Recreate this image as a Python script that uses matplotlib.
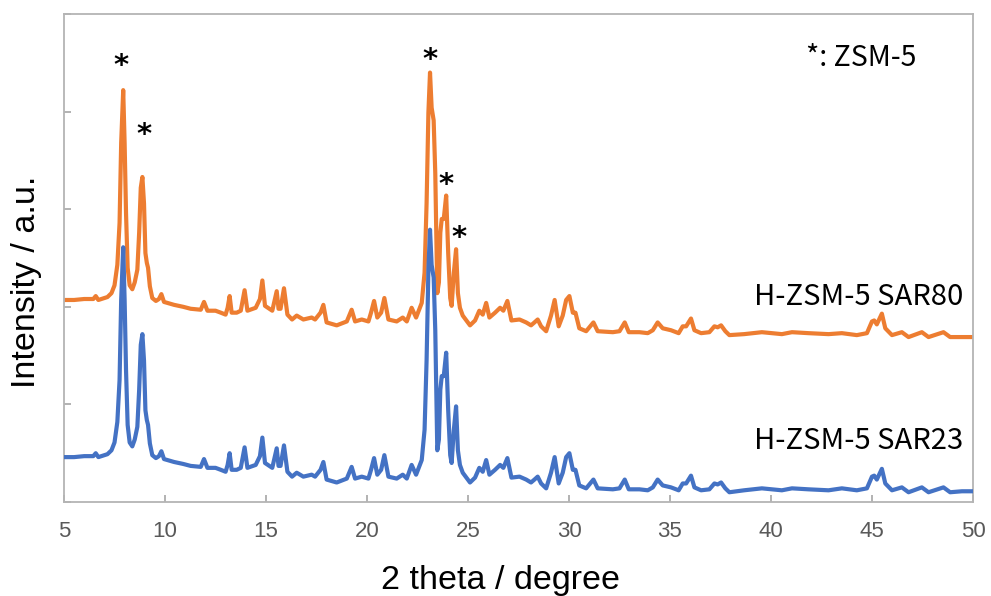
import matplotlib
matplotlib.use("Agg")
import matplotlib.pyplot as plt

# XRD patterns of the two H-ZSM-5 samples (intensity already stacked for display)
two_theta = [
    5.00, 5.50, 6.00, 6.45, 6.57, 6.70, 7.15, 7.35, 7.50, 7.64,
    7.75, 7.83, 7.93, 8.00, 8.07, 8.15, 8.25, 8.38, 8.50, 8.63,
    8.72, 8.80, 8.88, 8.96, 9.03, 9.10, 9.16, 9.25, 9.37, 9.55,
    9.70, 9.82, 9.95, 10.45, 10.90, 11.27, 11.77, 11.93, 12.10, 12.50,
    12.76, 13.00, 13.10, 13.20, 13.30, 13.55, 13.75, 13.94, 14.08, 14.49,
    14.70, 14.82, 14.95, 15.31, 15.53, 15.62, 15.72, 15.89, 16.06, 16.29,
    16.52, 16.85, 17.26, 17.43, 17.70, 17.84, 18.00, 18.50, 19.00, 19.24,
    19.41, 19.74, 20.07, 20.20, 20.35, 20.51, 20.70, 20.86, 21.06, 21.47,
    21.77, 21.97, 22.21, 22.43, 22.71, 22.85, 22.95, 23.04, 23.12, 23.20,
    23.30, 23.38, 23.48, 23.56, 23.63, 23.70, 23.80, 23.92, 24.02, 24.12,
    24.19, 24.30, 24.41, 24.50, 24.60, 24.74, 25.10, 25.35, 25.56, 25.73,
    25.90, 26.06, 26.34, 26.59, 26.75, 26.95, 27.15, 27.55, 27.88, 28.12,
    28.29, 28.45, 28.62, 28.87, 29.11, 29.29, 29.49, 29.69, 29.86, 30.02,
    30.19, 30.32, 30.51, 30.85, 31.21, 31.42, 32.17, 32.50, 32.76, 32.96,
    33.49, 33.90, 34.15, 34.39, 34.64, 35.05, 35.43, 35.63, 35.80, 36.04,
    36.21, 36.54, 36.95, 37.20, 37.36, 37.53, 37.74, 37.94, 38.67, 39.55,
    40.54, 41.04, 41.86, 42.85, 43.51, 44.25, 44.75, 45.00, 45.11, 45.24,
    45.49, 45.66, 45.99, 46.48, 46.81, 47.47, 47.80, 48.54, 48.87, 49.45,
    50.00,
]

sar80 = [
    2.07, 2.07, 2.08, 2.08, 2.11, 2.07, 2.10, 2.14, 2.22, 2.43,
    2.86, 3.68, 4.22, 3.68, 2.96, 2.40, 2.22, 2.18, 2.25, 2.38,
    2.76, 3.22, 3.33, 3.06, 2.55, 2.45, 2.40, 2.21, 2.09, 2.06,
    2.08, 2.13, 2.05, 2.02, 2.00, 1.98, 1.97, 2.05, 1.96, 1.96,
    1.94, 1.92, 1.99, 2.11, 1.94, 1.94, 1.96, 2.17, 1.96, 1.99,
    2.08, 2.27, 2.01, 1.96, 2.16, 1.98, 1.98, 2.19, 1.92, 1.87,
    1.91, 1.87, 1.89, 1.87, 1.94, 2.02, 1.84, 1.81, 1.85, 1.97,
    1.85, 1.87, 1.85, 1.94, 2.06, 1.89, 1.94, 2.09, 1.87, 1.85,
    1.89, 1.85, 1.99, 1.89, 2.04, 2.35, 3.06, 3.99, 4.40, 4.04,
    3.91, 3.37, 2.14, 2.25, 2.76, 2.90, 2.90, 3.14, 2.55, 2.09,
    2.01, 2.35, 2.59, 2.14, 1.99, 1.91, 1.81, 1.86, 1.96, 1.92,
    2.04, 1.89, 1.94, 1.99, 1.96, 2.06, 1.86, 1.87, 1.84, 1.81,
    1.84, 1.87, 1.80, 1.75, 1.91, 2.07, 1.80, 1.91, 2.07, 2.11,
    1.94, 1.94, 1.78, 1.75, 1.84, 1.75, 1.74, 1.75, 1.84, 1.74,
    1.74, 1.73, 1.76, 1.84, 1.78, 1.76, 1.73, 1.80, 1.80, 1.88,
    1.76, 1.73, 1.74, 1.80, 1.79, 1.81, 1.75, 1.71, 1.72, 1.74,
    1.72, 1.74, 1.73, 1.72, 1.73, 1.71, 1.73, 1.85, 1.86, 1.82,
    1.93, 1.78, 1.71, 1.74, 1.69, 1.74, 1.69, 1.74, 1.69, 1.69,
    1.69,
]

sar23 = [
    0.46, 0.46, 0.47, 0.47, 0.50, 0.46, 0.49, 0.53, 0.61, 0.82,
    1.25, 2.07, 2.61, 2.07, 1.35, 0.79, 0.61, 0.57, 0.64, 0.77,
    1.15, 1.61, 1.72, 1.45, 0.94, 0.84, 0.79, 0.60, 0.48, 0.45,
    0.47, 0.52, 0.44, 0.41, 0.39, 0.37, 0.36, 0.44, 0.35, 0.35,
    0.33, 0.31, 0.38, 0.50, 0.33, 0.33, 0.35, 0.56, 0.35, 0.38,
    0.47, 0.66, 0.40, 0.35, 0.55, 0.37, 0.37, 0.58, 0.31, 0.26,
    0.30, 0.26, 0.28, 0.26, 0.33, 0.41, 0.23, 0.20, 0.24, 0.36,
    0.24, 0.26, 0.24, 0.33, 0.45, 0.28, 0.33, 0.48, 0.26, 0.24,
    0.28, 0.24, 0.38, 0.28, 0.43, 0.74, 1.45, 2.38, 2.79, 2.43,
    2.30, 1.76, 0.53, 0.64, 1.15, 1.29, 1.29, 1.53, 0.94, 0.48,
    0.40, 0.74, 0.98, 0.53, 0.38, 0.30, 0.20, 0.25, 0.35, 0.31,
    0.43, 0.28, 0.33, 0.38, 0.35, 0.45, 0.25, 0.26, 0.23, 0.20,
    0.23, 0.26, 0.19, 0.14, 0.30, 0.46, 0.19, 0.30, 0.46, 0.50,
    0.33, 0.33, 0.17, 0.14, 0.23, 0.14, 0.13, 0.14, 0.23, 0.13,
    0.13, 0.12, 0.15, 0.23, 0.17, 0.15, 0.12, 0.19, 0.19, 0.27,
    0.15, 0.12, 0.13, 0.19, 0.18, 0.20, 0.14, 0.10, 0.12, 0.14,
    0.12, 0.14, 0.13, 0.12, 0.14, 0.12, 0.14, 0.26, 0.27, 0.23,
    0.34, 0.19, 0.12, 0.15, 0.10, 0.15, 0.10, 0.15, 0.10, 0.11,
    0.11,
]

# ZSM-5 reflections marked with an asterisk (position, label height)
star_x = [7.82, 8.96, 23.12, 23.91, 24.55]
star_y = [4.47, 3.76, 4.53, 3.25, 2.70]

x_ticks = [5, 10, 15, 20, 25, 30, 35, 40, 45, 50]

cjk = ['Noto Sans CJK SC', 'DejaVu Sans']
arial = ['Liberation Sans', 'DejaVu Sans']

fig = plt.figure(figsize=(9.91, 5.96), dpi=100)
ax = fig.add_axes([0.0646, 0.1577, 0.9172, 0.8188])

ax.plot(two_theta, sar80, color='#ED7D31', lw=3.0, solid_joinstyle='round', zorder=2)
ax.plot(two_theta, sar23, color='#4472C4', lw=3.0, solid_joinstyle='round', zorder=3)

for sx, sy in zip(star_x, star_y):
    ax.text(sx, sy, '*', fontsize=21, family='DejaVu Sans', weight='bold',
            ha='center', va='center', color='black')

ax.text(41.73, 4.55, '*: ZSM-5', fontsize=20.5, family=cjk, ha='left', va='center')
ax.text(49.5, 2.10, 'H-ZSM-5 SAR80', fontsize=21, family=cjk, ha='right', va='center')
ax.text(49.5, 0.625, 'H-ZSM-5 SAR23', fontsize=21, family=cjk, ha='right', va='center')

ax.set_xlim(5, 50)
ax.set_ylim(0, 5)
ax.set_xticks(x_ticks)
ax.set_yticks([0, 1, 2, 3, 4, 5])
ax.set_yticklabels([])
ax.tick_params(direction='in', length=5, width=1.2, color='#a6a6a6')
ax.tick_params(axis='x', labelsize=16, labelcolor='#595959', pad=14)
for lbl in ax.get_xticklabels():
    lbl.set_family(arial)
for sp in ax.spines.values():
    sp.set_color('#b4b4b4')
    sp.set_linewidth(1.3)

ax.set_xlabel('2 theta / degree', fontsize=24.5, family=arial)
ax.set_ylabel('Intensity / a.u.', fontsize=24.5, family=arial)
ax.xaxis.set_label_coords(0.48, -0.13)
ax.yaxis.set_label_coords(-0.024, 0.451)

fig.savefig('out.png', dpi=100)
